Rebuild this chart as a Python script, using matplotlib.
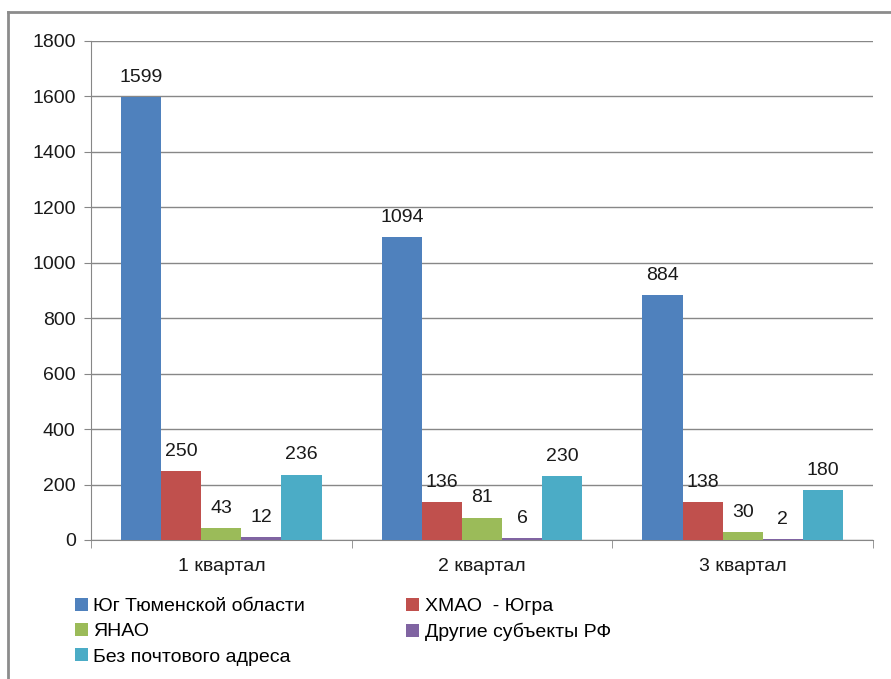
import numpy as np
import matplotlib.pyplot as plt
from matplotlib.lines import Line2D

plt.rcParams['font.family'] = ['Liberation Sans', 'DejaVu Sans']

quarters = ['1 квартал', '2 квартал', '3 квартал']
series_names = ['Юг Тюменской области', 'ХМАО  - Югра', 'ЯНАО',
                'Другие субъекты РФ', 'Без почтового адреса']
values = [
    [1599, 1094, 884],
    [250, 136, 138],
    [43, 81, 30],
    [12, 6, 2],
    [236, 230, 180],
]
colors = ['#4F81BD', '#C0504D', '#9BBB59', '#8064A2', '#4BACC6']

fs = 14
txt_col = '#1a1a1a'
fig = plt.figure(figsize=(8.91, 6.79), dpi=100)
ax = fig.add_axes([91 / 891, 1 - 540 / 679, (873 - 91) / 891, (540 - 41) / 679])

grid_col = '#878787'
x = np.arange(len(quarters))
n = len(series_names)
w = 1 / (n + 1.5)
bars = []
for i, (name, vals, c) in enumerate(zip(series_names, values, colors)):
    pos = x + (i - (n - 1) / 2) * w
    b = ax.bar(pos, vals, width=w, color=c, label=name, zorder=3)
    bars.append(b)
    for px, v in zip(pos, vals):
        ax.annotate(str(v), (px, v), xytext=(0, 8), textcoords='offset points',
                    ha='center', va='bottom', fontsize=fs, color=txt_col)

ax.set_xlim(-0.5, len(quarters) - 0.5)
ax.set_ylim(0, 1800)
ax.set_yticks(range(0, 1801, 200))
ax.yaxis.grid(True, color=grid_col, linewidth=1, zorder=0)
ax.set_xticks(x)
ax.set_xticklabels(quarters)
ax.set_xticks(np.arange(-0.5, len(quarters), 1), minor=True)
ax.tick_params(axis='x', which='major', length=0, pad=13, labelsize=fs, labelcolor=txt_col)
ax.tick_params(axis='x', which='minor', length=6, color=grid_col, direction='out')
ax.tick_params(axis='y', length=5, color=grid_col, labelsize=fs, labelcolor=txt_col, pad=6)
for s in ['top', 'right']:
    ax.spines[s].set_visible(False)
ax.spines['left'].set_color(grid_col)
ax.spines['bottom'].set_color(grid_col)

order = [0, 2, 4, 1, 3]
fig.legend([bars[i] for i in order], [series_names[i] for i in order],
           ncol=2, loc='upper left', bbox_to_anchor=(75 / 891, 1 - 598 / 679),
           frameon=False, fontsize=fs, handlelength=0.65, handleheight=0.65,
           handletextpad=0.3, labelspacing=0.4, columnspacing=5.2,
           borderpad=0, borderaxespad=0)

# chart frame
fig.add_artist(Line2D([8 / 891, 1.0], [1 - 12 / 679] * 2, color='#8c8c8c', linewidth=2))
fig.add_artist(Line2D([8 / 891] * 2, [0.0, 1 - 12 / 679], color='#8c8c8c', linewidth=2))

fig.savefig('out.png', dpi=100)
